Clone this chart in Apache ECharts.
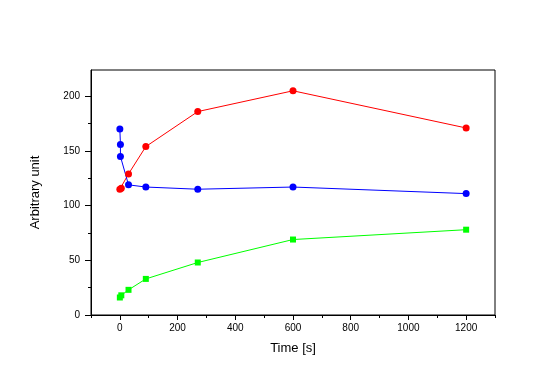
<!DOCTYPE html>
<html>
<head>
<meta charset="utf-8">
<script src="https://cdn.jsdelivr.net/npm/echarts@6/dist/echarts.min.js"></script>
<style>html,body{margin:0;padding:0;background:#fff}#c{width:542px;height:378px}</style>
</head>
<body>
<div id="c"></div>
<script>
var redTime = [0, 5, 30, 90, 270, 600, 1200];
var redValue = [115, 116, 129, 154, 186, 205, 171];
var blueTime = [0, 2, 2, 30, 90, 270, 600, 1200];
var blueValue = [170, 156, 145, 119, 117, 115, 117, 111];
var greenTime = [0, 5, 30, 90, 270, 600, 1200];
var greenValue = [16, 18, 23, 33, 48, 69, 78];
var xTicks = [0, 200, 400, 600, 800, 1000, 1200];
var xMinorTicks = [-100, 100, 300, 500, 700, 900, 1100, 1300];
var yTicks = [0, 50, 100, 150, 200];
var yMinorTicks = [25, 75, 125, 175];

function pairs(xs, ys) { return xs.map(function (x, i) { return [x, ys[i]]; }); }
var font = 'Arial, "Liberation Sans", sans-serif';
function plain(v) { return String(v); }

function series(name, xs, ys, color, symbol, size) {
  return {
    name: name, type: 'line', data: pairs(xs, ys),
    xAxisIndex: 0, yAxisIndex: 0,
    symbol: symbol, symbolSize: size, showSymbol: true,
    lineStyle: { color: color, width: 1 },
    itemStyle: { color: color },
    animation: false
  };
}

var chart = echarts.init(document.getElementById('c'), null, { renderer: 'canvas' });
chart.setOption({
  animation: false,
  backgroundColor: '#fff',
  grid: { left: 91, right: 47, top: 70, bottom: 63, show: true, borderColor: '#000', borderWidth: 1, backgroundColor: 'transparent' },
  xAxis: [{
    type: 'value', min: -100, max: 1300, position: 'bottom',
    name: 'Time [s]', nameLocation: 'middle', nameGap: 27,
    nameTextStyle: { fontFamily: font, fontSize: 13, color: '#000' },
    axisLine: { show: true, onZero: false, lineStyle: { color: '#000', width: 1 } },
    axisTick: { show: true, length: 5, customValues: xTicks, lineStyle: { color: '#000' } },
    axisLabel: { customValues: xTicks, formatter: plain, fontFamily: font, fontSize: 10, color: '#000', margin: 8 },
    splitLine: { show: false }
  }, {
    type: 'value', min: -100, max: 1300, position: 'bottom',
    axisLine: { show: false, onZero: false },
    axisTick: { show: true, length: 3, customValues: xMinorTicks, lineStyle: { color: '#000' } },
    axisLabel: { show: false },
    splitLine: { show: false }
  }],
  yAxis: [{
    type: 'value', min: 0, max: 224, position: 'left',
    name: 'Arbitrary unit', nameLocation: 'middle', nameGap: 49, nameRotate: 90,
    nameTextStyle: { fontFamily: font, fontSize: 13, color: '#000' },
    axisLine: { show: true, onZero: false, lineStyle: { color: '#000', width: 1 } },
    axisTick: { show: true, length: 6, customValues: yTicks, lineStyle: { color: '#000' } },
    axisLabel: { customValues: yTicks, formatter: plain, fontFamily: font, fontSize: 10, color: '#000', margin: 11 },
    splitLine: { show: false }
  }, {
    type: 'value', min: 0, max: 224, position: 'left',
    axisLine: { show: false, onZero: false },
    axisTick: { show: true, length: 3, customValues: yMinorTicks, lineStyle: { color: '#000' } },
    axisLabel: { show: false },
    splitLine: { show: false }
  }],
  series: [
    series('red', redTime, redValue, '#ff0000', 'circle', 7),
    series('blue', blueTime, blueValue, '#0000ff', 'circle', 7),
    series('green', greenTime, greenValue, '#00ff00', 'rect', 6)
  ]
});
</script>
</body>
</html>
